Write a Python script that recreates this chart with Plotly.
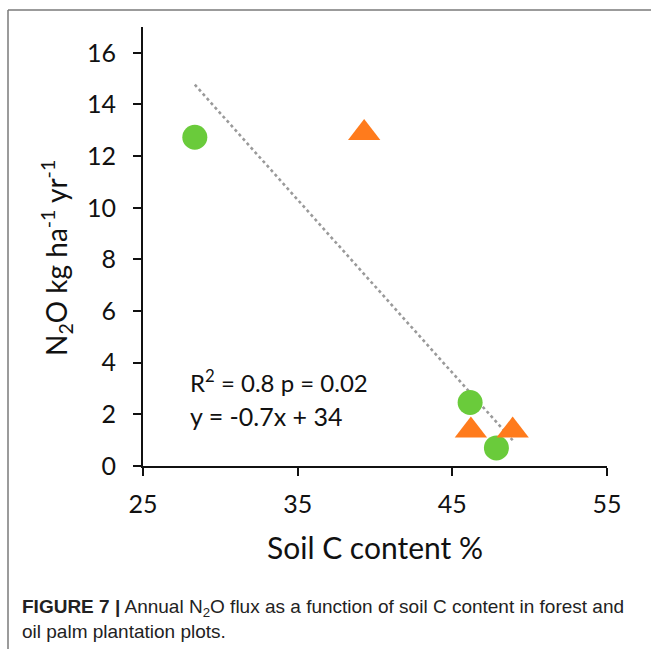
import plotly.graph_objects as go

# Soil C content (%) and annual N2O flux (kg ha-1 yr-1)
forest_soil_c = [28.35, 46.15, 47.85]
forest_n2o = [12.73, 2.46, 0.70]
palm_soil_c = [39.3, 46.2, 48.9]
palm_n2o = [12.9, 1.37, 1.37]

# Linear fit across the plots
fit_slope = -0.67
fit_intercept = 33.76
fit_r2 = 0.8
fit_p = 0.02

x_ticks = [25, 35, 45, 55]
y_ticks = [0, 2, 4, 6, 8, 10, 12, 14, 16]

W, H = 651, 649
L, R, T, B = 143, 44, 27, 183

all_x = forest_soil_c + palm_soil_c
fit_x = [min(all_x), max(all_x)]
fit_y = [fit_slope * v + fit_intercept for v in fit_x]

font_main = "Lato, 'Open Sans', sans-serif"

fig = go.Figure()
fig.add_trace(go.Scatter(
    x=fit_x, y=fit_y, mode="lines",
    line=dict(color="#9a9a9a", width=2.6, dash="dot"),
    hoverinfo="skip", showlegend=False,
))
fig.add_trace(go.Scatter(
    x=forest_soil_c, y=forest_n2o, mode="markers", name="Forest",
    marker=dict(symbol="circle", size=25, color="#6acb3b"),
    showlegend=False,
))
fig.add_trace(go.Scatter(
    x=palm_soil_c, y=palm_n2o, mode="markers", name="Oil palm",
    marker=dict(symbol="triangle-up", size=28, color="#ff7b1c"),
    showlegend=False,
))

fig.add_annotation(
    x=27.9, y=3.3, xref="x", yref="y", xanchor="left", yanchor="middle",
    text=f"R<sup>2</sup> = {fit_r2} p = {fit_p}", showarrow=False,
    font=dict(family=font_main, size=24, color="#111"),
)
fig.add_annotation(
    x=27.9, y=1.95, xref="x", yref="y", xanchor="left", yanchor="middle",
    text=f"y = {fit_slope:.1f}x + {fit_intercept:.0f}", showarrow=False,
    font=dict(family=font_main, size=25, color="#111"),
)

pw, ph = W - L - R, H - T - B
def px_x(p):
    return (p - L) / pw
def px_y(p):
    return (H - B - p) / ph

# y-axis title
fig.add_annotation(
    x=px_x(56), y=px_y(258), xref="paper", yref="paper",
    xanchor="center", yanchor="middle", textangle=-90, showarrow=False,
    text="N<sub>2</sub>O kg ha<sup>-1</sup> yr<sup>-1</sup>",
    font=dict(family=font_main, size=28, color="#111"),
)

# figure frame (top and left rules)
fig.add_shape(type="line", xref="paper", yref="paper",
              x0=px_x(8), x1=px_x(W + 5), y0=px_y(10), y1=px_y(10),
              line=dict(color="#7a7a7a", width=1.5))
fig.add_shape(type="line", xref="paper", yref="paper",
              x0=px_x(8), x1=px_x(8), y0=px_y(10), y1=px_y(H + 5),
              line=dict(color="#7a7a7a", width=1.5))

fig.add_annotation(
    x=px_x(20), y=px_y(594), xref="paper", yref="paper",
    xanchor="left", yanchor="top", align="left", showarrow=False,
    text=("<b>FIGURE 7 |</b> Annual N<sub>2</sub>O flux as a function of soil C content in forest and"
          "<br>oil palm plantation plots."),
    font=dict(family="'Liberation Sans Narrow', 'Liberation Sans', Arial, sans-serif",
              size=19, color="#222"),
)

fig.update_layout(
    width=W, height=H,
    margin=dict(l=L, r=R, t=T, b=B, autoexpand=False),
    paper_bgcolor="white", plot_bgcolor="white",
    font=dict(family=font_main, color="#111"),
)
fig.update_xaxes(
    range=[25, 55], tickvals=x_ticks, ticktext=[str(v) for v in x_ticks],
    showgrid=False, zeroline=False, showline=True, linecolor="#111", linewidth=2,
    ticks="outside", ticklen=8, tickwidth=2, tickcolor="#111",
    tickfont=dict(size=25), ticklabelstandoff=7,
    title=dict(text="Soil C content %", font=dict(size=30), standoff=21),
)
fig.update_yaxes(
    range=[0, 17], tickvals=y_ticks, ticktext=[str(v) for v in y_ticks],
    showgrid=False, zeroline=False, showline=True, linecolor="#111", linewidth=2,
    ticks="outside", ticklen=8, tickwidth=2, tickcolor="#111",
    tickfont=dict(size=25), ticklabelstandoff=12,
)

fig.write_html("out.html")
